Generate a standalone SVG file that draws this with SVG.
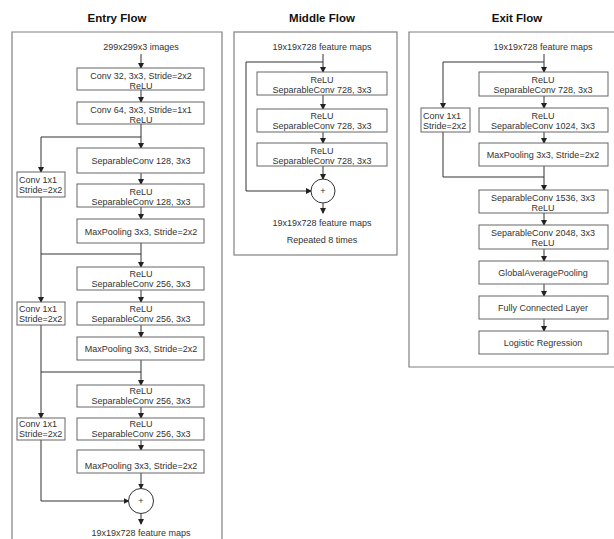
<svg xmlns="http://www.w3.org/2000/svg" width="614" height="539" viewBox="0 0 614 539">
<defs>
<marker id="ah" markerUnits="userSpaceOnUse" markerWidth="6" markerHeight="6" refX="5" refY="3" orient="auto">
<path d="M0,0 L6,3 L0,6 Z" fill="#222"/>
</marker>
<style>
.frame{fill:none;stroke:#808080;stroke-width:1.2}
.box{fill:#fff;stroke:#666;stroke-width:1}
.t{font-family:"Liberation Sans",Arial,sans-serif;font-size:9px;fill:#333;text-anchor:middle}
.tl{font-family:"Liberation Sans",Arial,sans-serif;font-size:9px;fill:#333;text-anchor:start}
.title{font-family:"Liberation Sans",Arial,sans-serif;font-size:11.5px;font-weight:bold;fill:#111;text-anchor:middle}
.c{fill:none;stroke:#333;stroke-width:1}
.a{fill:none;stroke:#333;stroke-width:1;marker-end:url(#ah)}
.add{fill:#fff;stroke:#333;stroke-width:1}
</style>
</defs>
<rect width="614" height="539" fill="#fff"/>

<!-- Frames -->
<g id="entry-frame">
<path class="frame" d="M12,545 V32 H222 V545"/>
<text class="title" x="117" y="22">Entry Flow</text>
</g>
<g id="middle-frame">
<rect class="frame" x="234" y="32" width="163" height="223"/>
<text class="title" x="322" y="22">Middle Flow</text>
</g>
<g id="exit-frame">
<path class="frame" d="M620,367 H409 V32 H620"/>
<text class="title" x="517" y="22">Exit Flow</text>
</g>

<!-- Connectors -->
<g id="connectors">
<!-- Entry -->
<line class="a" x1="141" y1="54" x2="141" y2="68"/>
<line class="a" x1="141" y1="90" x2="141" y2="102"/>
<line class="a" x1="141" y1="124" x2="141" y2="148"/>
<polyline class="a" points="141,137 41,137 41,172"/>
<line class="a" x1="141" y1="173" x2="141" y2="184"/>
<line class="a" x1="141" y1="207" x2="141" y2="219"/>
<line class="a" x1="141" y1="243" x2="141" y2="267"/>
<line class="c" x1="41" y1="254" x2="141" y2="254"/>
<line class="a" x1="41" y1="197" x2="41" y2="302"/>
<line class="a" x1="141" y1="290" x2="141" y2="302"/>
<line class="a" x1="141" y1="325" x2="141" y2="337"/>
<line class="a" x1="141" y1="360" x2="141" y2="385"/>
<line class="c" x1="41" y1="372" x2="141" y2="372"/>
<line class="a" x1="41" y1="325" x2="41" y2="418"/>
<line class="a" x1="141" y1="407" x2="141" y2="418"/>
<line class="a" x1="141" y1="440" x2="141" y2="450"/>
<line class="a" x1="141" y1="473" x2="141" y2="488.5"/>
<polyline class="a" points="41,440 41,501 128.5,501"/>
<line class="a" x1="141" y1="513.5" x2="141" y2="524"/>
<!-- Middle -->
<line class="a" x1="323" y1="54" x2="323" y2="72"/>
<polyline class="a" points="323,62 246,62 246,191 311,191"/>
<line class="a" x1="323" y1="95" x2="323" y2="109"/>
<line class="a" x1="323" y1="132" x2="323" y2="143"/>
<line class="a" x1="323" y1="166" x2="323" y2="179"/>
<line class="a" x1="323" y1="203" x2="323" y2="213"/>
<!-- Exit -->
<line class="a" x1="544" y1="54" x2="544" y2="72"/>
<polyline class="a" points="544,62 443,62 443,108"/>
<line class="a" x1="544" y1="96" x2="544" y2="108"/>
<line class="a" x1="544" y1="132" x2="544" y2="143"/>
<line class="a" x1="544" y1="166" x2="544" y2="190"/>
<polyline class="c" points="443,132 443,177 544,177"/>
<line class="a" x1="544" y1="213" x2="544" y2="225"/>
<line class="a" x1="544" y1="249" x2="544" y2="261"/>
<line class="a" x1="544" y1="284" x2="544" y2="296"/>
<line class="a" x1="544" y1="319" x2="544" y2="331"/>
</g>

<!-- Entry nodes -->
<g id="entry-input"><text class="t" x="141" y="50">299x299x3 images</text></g>
<g id="e-conv32"><rect class="box" x="77" y="68" width="127" height="22"/><text class="t" x="141" y="79">Conv 32, 3x3, Stride=2x2</text><text class="t" x="141" y="88.5">ReLU</text></g>
<g id="e-conv64"><rect class="box" x="77" y="102" width="127" height="22"/><text class="t" x="141" y="113">Conv 64, 3x3, Stride=1x1</text><text class="t" x="141" y="122.5">ReLU</text></g>
<g id="e-sep128a"><rect class="box" x="77" y="148" width="127" height="25"/><text class="t" x="141" y="164">SeparableConv 128, 3x3</text></g>
<g id="e-skip1"><rect class="box" x="17" y="172" width="48" height="25"/><text class="tl" x="19" y="182.5">Conv 1x1</text><text class="tl" x="19" y="193">Stride=2x2</text></g>
<g id="e-sep128b"><rect class="box" x="77" y="184" width="127" height="23"/><text class="t" x="141" y="195">ReLU</text><text class="t" x="141" y="205">SeparableConv 128, 3x3</text></g>
<g id="e-pool1"><rect class="box" x="77" y="219" width="127" height="24"/><text class="t" x="141" y="234.5">MaxPooling 3x3, Stride=2x2</text></g>
<g id="e-sep256a"><rect class="box" x="77" y="267" width="127" height="23"/><text class="t" x="141" y="277">ReLU</text><text class="t" x="141" y="287">SeparableConv 256, 3x3</text></g>
<g id="e-skip2"><rect class="box" x="17" y="302" width="48" height="23"/><text class="tl" x="19" y="312">Conv 1x1</text><text class="tl" x="19" y="322">Stride=2x2</text></g>
<g id="e-sep256b"><rect class="box" x="77" y="302" width="127" height="23"/><text class="t" x="141" y="312">ReLU</text><text class="t" x="141" y="322">SeparableConv 256, 3x3</text></g>
<g id="e-pool2"><rect class="box" x="77" y="337" width="127" height="23"/><text class="t" x="141" y="351.5">MaxPooling 3x3, Stride=2x2</text></g>
<g id="e-sep256c"><rect class="box" x="77" y="385" width="127" height="22"/><text class="t" x="141" y="393.5">ReLU</text><text class="t" x="141" y="404">SeparableConv 256, 3x3</text></g>
<g id="e-skip3"><rect class="box" x="17" y="418" width="48" height="22"/><text class="tl" x="19" y="426.5">Conv 1x1</text><text class="tl" x="19" y="437">Stride=2x2</text></g>
<g id="e-sep256d"><rect class="box" x="77" y="418" width="127" height="22"/><text class="t" x="141" y="426.5">ReLU</text><text class="t" x="141" y="437">SeparableConv 256, 3x3</text></g>
<g id="e-pool3"><rect class="box" x="77" y="450" width="127" height="23"/><text class="t" x="141" y="469">MaxPooling 3x3, Stride=2x2</text></g>
<g id="e-add"><circle class="add" cx="141" cy="501" r="12.5"/><text class="t" x="141" y="504">+</text></g>
<g id="entry-output"><text class="t" x="141" y="536">19x19x728 feature maps</text></g>

<!-- Middle nodes -->
<g id="middle-input"><text class="t" x="322" y="50">19x19x728 feature maps</text></g>
<g id="m-sep1"><rect class="box" x="257" y="72" width="130" height="23"/><text class="t" x="322" y="83">ReLU</text><text class="t" x="322" y="93">SeparableConv 728, 3x3</text></g>
<g id="m-sep2"><rect class="box" x="257" y="109" width="130" height="23"/><text class="t" x="322" y="119">ReLU</text><text class="t" x="322" y="129">SeparableConv 728, 3x3</text></g>
<g id="m-sep3"><rect class="box" x="257" y="143" width="130" height="23"/><text class="t" x="322" y="153.5">ReLU</text><text class="t" x="322" y="163.5">SeparableConv 728, 3x3</text></g>
<g id="m-add"><circle class="add" cx="323" cy="191" r="12"/><text class="t" x="323" y="194">+</text></g>
<g id="middle-output"><text class="t" x="322" y="226">19x19x728 feature maps</text></g>
<g id="middle-note"><text class="t" x="322" y="243">Repeated 8 times</text></g>

<!-- Exit nodes -->
<g id="exit-input"><text class="t" x="543" y="50">19x19x728 feature maps</text></g>
<g id="x-sep728"><rect class="box" x="479" y="72" width="129" height="24"/><text class="t" x="543" y="83">ReLU</text><text class="t" x="543" y="93">SeparableConv 728, 3x3</text></g>
<g id="x-sep1024"><rect class="box" x="479" y="108" width="129" height="24"/><text class="t" x="543" y="119">ReLU</text><text class="t" x="543" y="129">SeparableConv 1024, 3x3</text></g>
<g id="x-skip"><rect class="box" x="421" y="108" width="49" height="24"/><text class="tl" x="423" y="119">Conv 1x1</text><text class="tl" x="423" y="129">Stride=2x2</text></g>
<g id="x-pool"><rect class="box" x="479" y="143" width="129" height="23"/><text class="t" x="543" y="157.5">MaxPooling 3x3, Stride=2x2</text></g>
<g id="x-sep1536"><rect class="box" x="479" y="190" width="129" height="23"/><text class="t" x="543" y="200.5">SeparableConv 1536, 3x3</text><text class="t" x="543" y="210.5">ReLU</text></g>
<g id="x-sep2048"><rect class="box" x="479" y="225" width="129" height="24"/><text class="t" x="543" y="236">SeparableConv 2048, 3x3</text><text class="t" x="543" y="246">ReLU</text></g>
<g id="x-gap"><rect class="box" x="479" y="261" width="129" height="23"/><text class="t" x="543" y="275.5">GlobalAveragePooling</text></g>
<g id="x-fc"><rect class="box" x="479" y="296" width="129" height="23"/><text class="t" x="543" y="310.5">Fully Connected Layer</text></g>
<g id="x-lr"><rect class="box" x="479" y="331" width="129" height="23"/><text class="t" x="543" y="345.5">Logistic Regression</text></g>
</svg>
